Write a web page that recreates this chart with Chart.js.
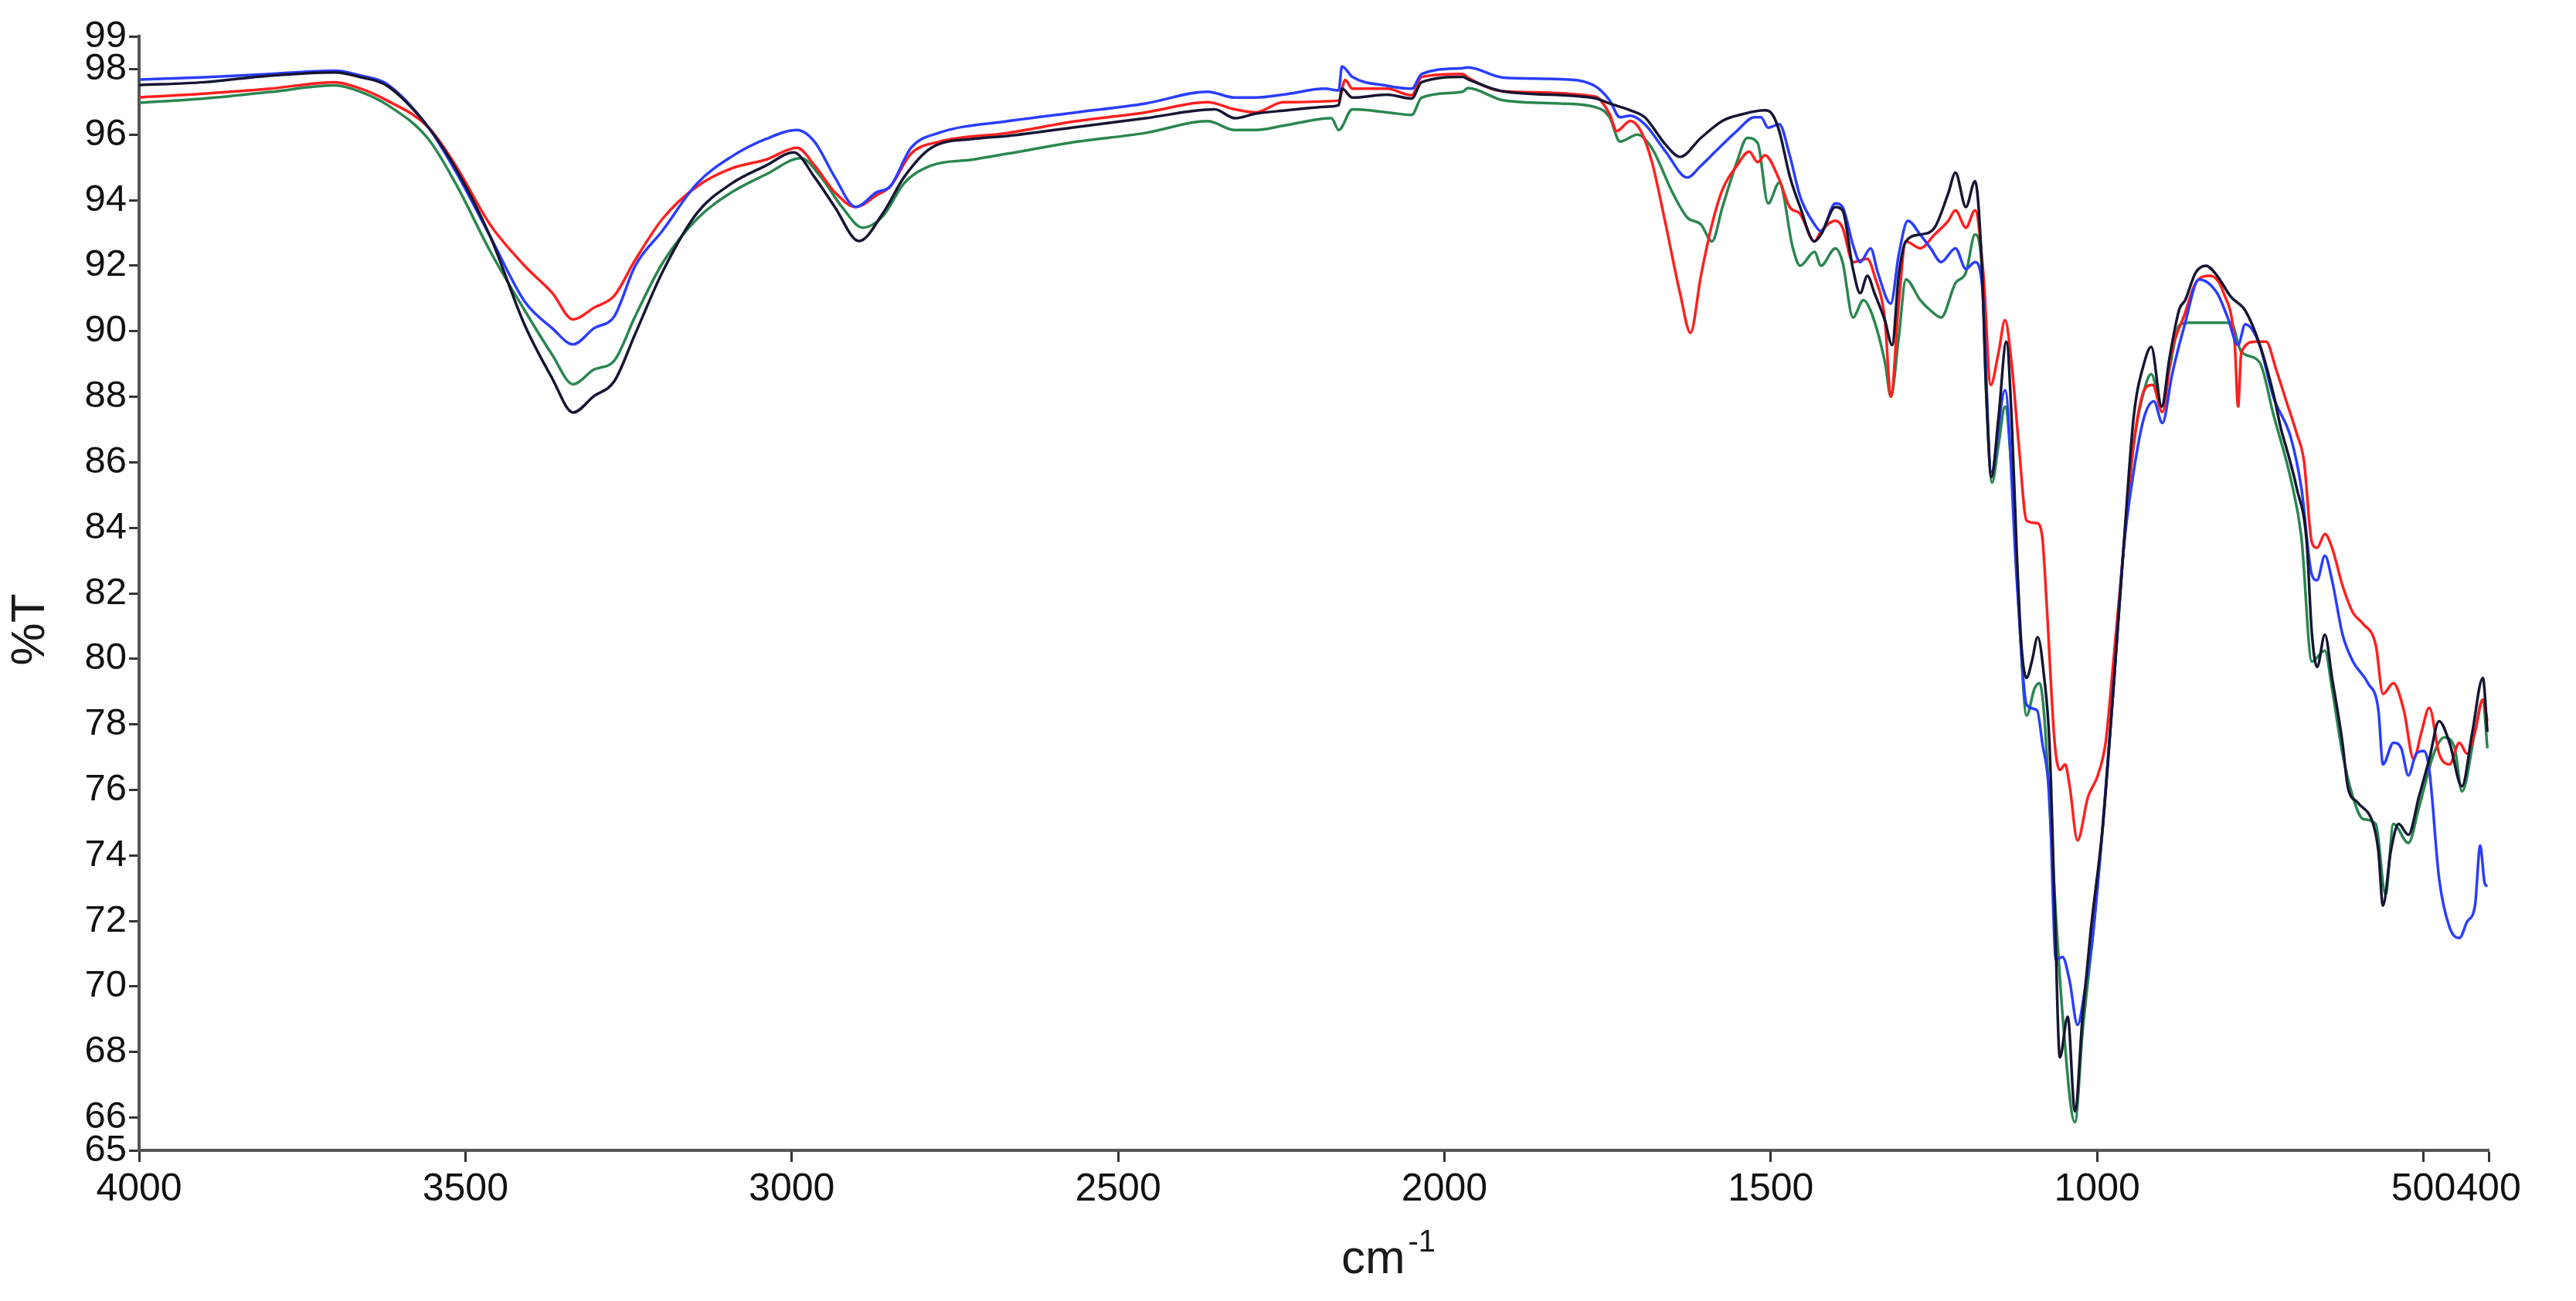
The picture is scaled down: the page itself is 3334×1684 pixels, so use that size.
<!DOCTYPE html>
<html>
<head>
<meta charset="utf-8">
<title>FTIR spectra</title>
<script src="https://cdn.jsdelivr.net/npm/chart.js@4.4.1/dist/chart.umd.min.js"></script>
<style>
    html, body { margin: 0; padding: 0; background: #fff; }
    #wrap { width: 3334px; height: 1684px; position: relative; }
</style>
</head>
<body>
<div id="wrap"><canvas id="ftirChart"></canvas></div>
<script>
// wavenumber (cm-1) and %T
const wnBlack = [4000,3900,3800,3700,3660,3620,3557,3515,3462,3409,3367,3335,3303,3272,3240,3198,3145,3092,3039,2997,2965,2934,2897,2860,2828,2786,2722,2669,2564,2458,2352,2321,2289,2247,2173,2162,2157,2141,2088,2050,2035,1972,1964,1910,1769,1747,1715,1693,1661,1639,1607,1574,1542,1509,1498,1487,1471,1455,1433,1423,1401,1390,1374,1363,1352,1341,1325,1314,1304,1293,1271,1249,1228,1217,1201,1187,1177,1170,1162,1151,1139,1131,1123,1116,1108,1100,1091,1081,1073,1065,1057,1045,1034,1022,1010,991,975,960,944,928,917,901,889,874,865,849,833,816,795,773,751,730,718,708,694,679,671,663,651,640,624,616,601,577,569,562,550,538,523,507,491,476,460,441,425,409,402];
const tBlack = [97.51,97.6,97.8,97.9,97.75,97.49,96.23,94.97,92.89,90.18,88.56,87.52,88.02,88.47,89.91,91.81,93.61,94.51,95.06,95.46,94.70,93.79,92.75,93.61,94.70,95.60,95.87,95.96,96.23,96.50,96.77,96.50,96.64,96.73,96.86,96.9,97.4,97.13,97.22,97.1,97.6,97.76,97.69,97.32,97.11,96.95,96.74,96.53,95.69,95.32,95.90,96.42,96.63,96.74,96.63,96.11,94.74,93.79,92.74,92.95,93.79,93.69,91.90,91.16,91.69,91.16,90.32,89.58,91.69,92.74,92.95,93.16,94.21,94.84,93.79,94.58,92.2,88.19,85.55,87.37,89.68,87.37,83.23,80.42,79.42,79.92,80.66,79.42,77.44,72.47,67.84,69.08,66.19,69.16,71.65,74.96,79.09,83.23,87.37,89.02,89.52,87.70,89.19,90.67,90.95,91.79,92.0,91.69,91.05,90.63,89.6,88.1,87.0,86.3,85.2,83.6,80.8,79.75,80.74,79.42,77.44,76.11,75.62,74.96,74.13,72.47,74.13,74.96,74.63,75.78,76.94,78.10,77.44,76.11,77.77,79.42,77.77];

const wnBlue = [4000,3900,3800,3700,3660,3620,3557,3515,3462,3409,3367,3335,3303,3272,3240,3198,3145,3092,3039,2992,2965,2934,2902,2870,2849,2817,2775,2669,2564,2458,2363,2321,2289,2247,2183,2162,2157,2141,2088,2050,2035,1972,1964,1910,1823,1769,1747,1731,1715,1693,1661,1628,1607,1585,1552,1525,1515,1504,1487,1471,1455,1433,1423,1401,1390,1374,1363,1347,1336,1316,1304,1290,1271,1255,1239,1217,1201,1187,1176,1162,1141,1123,1108,1092,1084,1073,1063,1053,1042,1030,1018,1006,991,975,960,944,928,913,900,885,866,844,816,800,784,773,751,730,703,687,671,663,651,640,624,608,585,569,562,546,534,523,511,499,491,476,460,445,433,421,413,406,402];
const tBlue = [97.68,97.75,97.85,97.95,97.8,97.54,96.23,94.88,92.89,90.90,90.09,89.60,90.09,90.45,91.99,93.07,94.51,95.33,95.87,96.14,95.78,94.70,93.79,94.24,94.42,95.60,96.05,96.41,96.68,96.95,97.31,97.13,97.13,97.22,97.40,97.35,98.08,97.76,97.49,97.4,97.85,98.03,98.05,97.74,97.69,97.48,97.05,96.53,96.58,96.32,95.48,94.69,95.05,95.48,96.11,96.53,96.53,96.21,96.32,95.37,94.11,93.26,93.05,93.90,93.79,92.63,92.11,92.53,91.79,90.84,92.32,93.37,92.95,92.53,92.11,92.53,91.90,92.11,91.37,85.7,88.2,82.4,78.60,78.43,77.44,75.78,70.82,70.90,70.16,68.83,69.99,71.65,74.96,79.09,83.23,85.71,87.37,87.86,87.2,88.69,90.18,91.58,91.16,90.42,89.58,90.21,89.58,88.0,86.74,85.21,82.57,82.40,83.15,82.40,80.75,79.92,79.26,78.43,76.78,77.44,77.27,76.44,77.11,77.19,76.61,73.30,71.81,71.48,71.98,72.47,74.3,73.14,73.06];

const wnRed = [4000,3900,3800,3700,3660,3620,3557,3515,3462,3409,3367,3335,3303,3272,3240,3198,3145,3092,3039,2992,2965,2934,2902,2870,2849,2817,2775,2669,2564,2458,2363,2321,2289,2247,2162,2152,2141,2088,2050,2035,1972,1964,1910,1769,1747,1736,1715,1699,1682,1661,1639,1623,1607,1590,1574,1552,1533,1520,1509,1487,1471,1455,1433,1423,1401,1390,1374,1352,1341,1325,1316,1304,1293,1271,1249,1228,1217,1201,1187,1174,1163,1151,1141,1131,1120,1108,1092,1084,1077,1065,1057,1049,1042,1030,1014,999,987,975,960,944,928,915,900,886,866,849,827,806,789,784,779,757,741,726,710,694,683,671,663,651,640,624,608,593,573,562,546,530,515,503,491,476,460,445,433,421,409,402];
const tRed = [97.14,97.25,97.4,97.6,97.4,97.04,96.23,95.06,93.25,91.99,91.17,90.36,90.72,91.08,92.17,93.43,94.42,94.97,95.24,95.60,95.06,94.24,93.79,94.15,94.42,95.42,95.78,96.05,96.41,96.68,96.99,96.77,96.68,96.99,97.04,97.67,97.40,97.40,97.2,97.76,97.85,97.74,97.32,97.16,96.63,96.11,96.42,96.11,95.16,93.26,91.16,89.95,91.69,93.26,94.32,95.05,95.48,95.16,95.37,94.63,93.79,93.58,92.74,93.05,93.37,93.16,92.11,92.21,91.69,90.32,88.0,90.84,92.74,92.53,92.95,93.37,93.69,93.16,93.69,91.69,88.36,89.35,90.34,89.02,86.54,84.22,84.14,83.72,81.58,77.44,76.61,76.78,76.11,74.46,75.78,76.44,77.44,79.92,83.23,86.54,88.19,88.36,87.53,89.35,90.51,91.47,91.69,91.16,89.58,87.70,89.35,89.68,89.68,88.85,87.86,86.87,86.04,83.56,83.39,83.81,83.39,82.24,81.41,81.08,80.42,78.93,79.26,78.43,76.94,77.77,78.51,77.11,76.78,77.44,77.11,77.77,78.76,78.10];

const wnGreen = [4000,3900,3800,3700,3660,3620,3557,3515,3462,3409,3367,3335,3303,3272,3240,3198,3145,3092,3039,2986,2955,2923,2891,2860,2828,2786,2722,2669,2564,2458,2363,2321,2289,2247,2173,2162,2141,2088,2050,2035,1972,1964,1910,1823,1769,1747,1731,1704,1682,1650,1628,1607,1590,1574,1552,1536,1520,1504,1487,1466,1455,1433,1423,1401,1390,1374,1358,1347,1325,1316,1304,1293,1271,1255,1239,1217,1201,1187,1176,1170,1161,1151,1141,1131,1120,1108,1096,1088,1081,1069,1053,1034,1022,1006,991,975,960,944,928,917,901,889,874,860,795,779,751,730,702,687,671,651,640,624,608,593,573,558,546,523,507,484,468,452,441,421,409,402];
const tGreen = [96.97,97.1,97.3,97.5,97.3,96.91,95.87,94.51,92.44,90.63,89.28,88.38,88.83,89.10,90.45,92.08,93.43,94.24,94.79,95.28,94.70,93.79,93.16,93.52,94.51,95.06,95.24,95.42,95.78,96.05,96.41,96.14,96.14,96.27,96.50,96.14,96.77,96.68,96.6,97.13,97.31,97.42,97.05,96.95,96.84,96.53,95.79,96.0,95.58,94.21,93.47,93.26,92.74,93.79,95.16,95.90,95.74,93.90,94.53,92.53,92.0,92.42,92.0,92.53,92.11,90.42,90.95,90.63,89.05,88.0,89.79,91.58,90.95,90.63,90.42,91.47,91.79,92.95,91.8,88.19,85.38,86.54,87.70,85.71,81.58,78.27,79.09,79.26,78.27,74.13,69.16,65.86,68.67,71.65,74.96,79.09,83.23,86.54,88.19,88.69,87.70,88.85,90.18,90.26,90.26,89.37,89.05,87.47,85.38,83.72,79.92,80.25,79.09,77.11,75.78,75.12,74.96,72.81,74.96,74.38,75.45,77.11,77.60,77.27,75.95,77.77,78.76,77.27];

// axis ticks as printed on the figure
const xTicks = [4000, 3500, 3000, 2500, 2000, 1500, 1000, 500, 400];
const yTicks = [65, 66, 68, 70, 72, 74, 76, 78, 80, 82, 84, 86, 88, 90, 92, 94, 96, 98, 99];

const FONT = '"Liberation Sans", Arial, sans-serif';

function pairs(xs, ys) {
    return xs.map((x, i) => ({ x: x, y: ys[i] }));
}

function line(data, color) {
    return {
        data: data,
        borderColor: color,
        borderWidth: 3.5,
        pointRadius: 0,
        cubicInterpolationMode: 'monotone',
        fill: false
    };
}

// axis titles, "cm" with a raised "-1"
const axisTitles = {
    id: 'axisTitles',
    afterDraw(chart) {
        const ctx = chart.ctx;
        ctx.save();
        ctx.fillStyle = '#1a1a1a';
        ctx.textBaseline = 'alphabetic';

        ctx.font = '62px ' + FONT;
        const wCm = ctx.measureText('cm').width;
        ctx.font = '40px ' + FONT;
        const wSup = ctx.measureText('-1').width;
        const x0 = 1797 - (wCm + wSup + 4) / 2;
        ctx.font = '62px ' + FONT;
        ctx.fillText('cm', x0, 1648);
        ctx.font = '40px ' + FONT;
        ctx.fillText('-1', x0 + wCm + 4, 1620);

        ctx.translate(40, 815);
        ctx.rotate(-Math.PI / 2);
        ctx.textAlign = 'center';
        ctx.textBaseline = 'middle';
        ctx.font = '62px ' + FONT;
        ctx.fillText('%T', 0, 0);
        ctx.restore();
    }
};

const ftirChart = document.querySelector('#ftirChart');

new Chart(ftirChart, {
    type: 'line',
    data: {
        datasets: [
            line(pairs(wnBlack, tBlack), '#161633'),
            line(pairs(wnBlue, tBlue), '#2a3dff'),
            line(pairs(wnRed, tRed), '#ff1f1f'),
            line(pairs(wnGreen, tGreen), '#2a8650')
        ]
    },
    options: {
        responsive: true,
        maintainAspectRatio: false,
        animation: false,
        devicePixelRatio: 1,
        layout: {
            padding: { left: 0, right: 113, top: 47, bottom: 0 }
        },
        plugins: {
            legend: { display: false },
            tooltip: { enabled: false }
        },
        scales: {
            x: {
                type: 'linear',
                reverse: true,
                min: 400,
                max: 4000,
                afterBuildTicks: (scale) => {
                    scale.ticks = xTicks.map(v => ({ value: v }));
                },
                afterFit: (scale) => {
                    scale.height = 195;
                },
                grid: {
                    drawOnChartArea: false,
                    drawTicks: true,
                    tickLength: 15,
                    tickWidth: 3,
                    tickColor: '#333'
                },
                border: { display: true, color: '#555', width: 4 },
                ticks: {
                    autoSkip: false,
                    maxRotation: 0,
                    padding: 6,
                    color: '#111',
                    font: { family: FONT, size: 50 },
                    callback: (v) => String(v)
                }
            },
            y: {
                type: 'linear',
                min: 65,
                max: 99,
                afterBuildTicks: (scale) => {
                    scale.ticks = yTicks.map(v => ({ value: v }));
                },
                afterFit: (scale) => {
                    scale.width = 180;
                },
                grid: {
                    drawOnChartArea: false,
                    drawTicks: true,
                    tickLength: 13,
                    tickWidth: 3,
                    tickColor: '#333'
                },
                border: { display: true, color: '#555', width: 4 },
                ticks: {
                    autoSkip: false,
                    padding: 3,
                    color: '#111',
                    font: { family: FONT, size: 49 },
                    callback: (v) => String(v)
                }
            }
        }
    },
    plugins: [axisTitles]
});
</script>
</body>
</html>
